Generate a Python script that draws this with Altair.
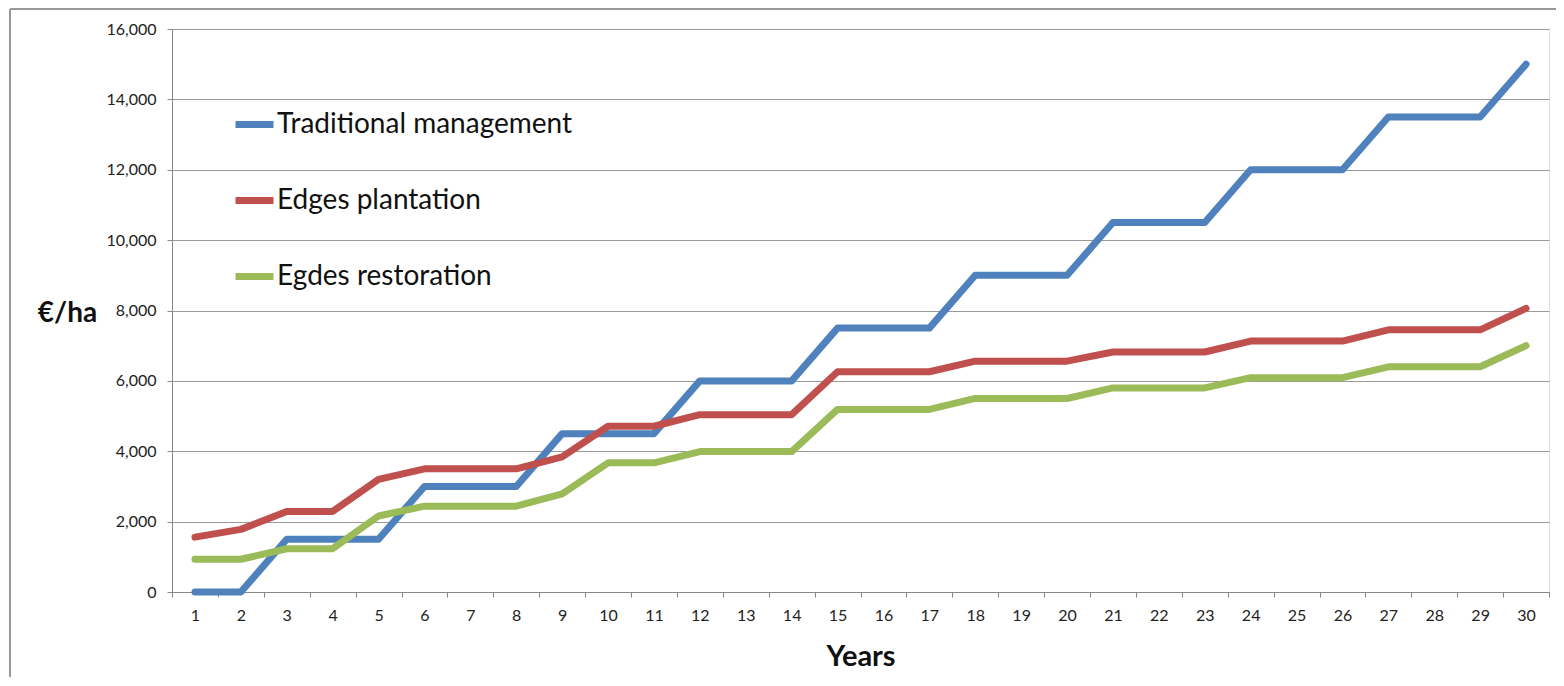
import altair as alt
import pandas as pd

years = list(range(1, 31))
series_names = ["Traditional management", "Edges plantation", "Egdes restoration"]
traditional = [0, 0, 1500, 1500, 1500, 3000, 3000, 3000, 4500, 4500,
               4500, 6000, 6000, 6000, 7500, 7500, 7500, 9000, 9000, 9000,
               10500, 10500, 10500, 12000, 12000, 12000, 13500, 13500, 13500, 15000]
plantation = [1560, 1780, 2290, 2290, 3200, 3500, 3500, 3500, 3840, 4710,
              4710, 5040, 5040, 5040, 6260, 6260, 6260, 6560, 6560, 6560,
              6820, 6820, 6820, 7130, 7130, 7130, 7450, 7450, 7450, 8060]
restoration = [930, 930, 1230, 1230, 2160, 2440, 2440, 2440, 2790, 3670,
               3670, 3990, 3990, 3990, 5190, 5190, 5190, 5500, 5500, 5500,
               5800, 5800, 5800, 6090, 6090, 6090, 6400, 6400, 6400, 7000]
colors = ["#4F81BD", "#C0504D", "#9BBB59"]

rows = []
for name, vals in zip(series_names, [traditional, plantation, restoration]):
    for y, v in zip(years, vals):
        rows.append({"Year": y, "Value": v, "Series": name})
df = pd.DataFrame(rows)

W, H = 1377, 563
FONT = "Lato"

lines = alt.Chart(df).mark_line(strokeWidth=7, strokeCap="round", strokeJoin="round").encode(
    x=alt.X("Year:O",
            scale=alt.Scale(type="band", paddingInner=0, paddingOuter=0),
            bandPosition=0.5,
            axis=alt.Axis(title="Years", labelAngle=0, tickBand="extent",
                          grid=False, domainColor="#888888", tickColor="#888888",
                          tickSize=5, labelPadding=10, labelFontSize=16,
                          labelColor="#222222", labelFont=FONT,
                          titleFont=FONT, titleFontSize=29, titleFontWeight="bold",
                          titleColor="#111111", titleY=73, titleBaseline="alphabetic")),
    y=alt.Y("Value:Q",
            scale=alt.Scale(domain=[0, 16000], nice=False),
            axis=alt.Axis(title="€/ha", values=list(range(0, 16001, 2000)), format=",d",
                          grid=True, gridColor="#999999", gridWidth=1,
                          domainColor="#888888", tickColor="#888888", tickSize=5,
                          labelPadding=11, labelFontSize=16, labelColor="#222222",
                          labelFont=FONT, titleFont=FONT, titleFontSize=28,
                          titleFontWeight="bold", titleColor="#111111", titleAngle=0,
                          titleX=-105, titleY=284, titleAlign="center",
                          titleBaseline="middle")),
    color=alt.Color("Series:N",
                    scale=alt.Scale(domain=series_names, range=colors),
                    legend=alt.Legend(title=None, orient="none", legendX=60, legendY=73,
                                      symbolType="stroke", symbolStrokeWidth=7,
                                      symbolSize=1444, labelFontSize=28, labelFont=FONT,
                                      labelColor="#111111", labelOffset=0,
                                      rowPadding=39, labelLimit=600)),
    order=alt.Order("Year:O"),
)

frame_top = alt.Chart(df).mark_rule(color="#999999", strokeWidth=1.5).encode(
    x=alt.value(-162), x2=alt.value(W + 10), y=alt.value(-20)
)
frame_left = alt.Chart(df).mark_rule(color="#999999", strokeWidth=1.5).encode(
    x=alt.value(-162), y=alt.value(-20), y2=alt.value(H + 120)
)

chart = alt.layer(frame_top, frame_left, lines).properties(
    width=W, height=H,
    autosize=alt.AutoSizeParams(type="none"),
    padding={"left": 164, "top": 21, "right": 7, "bottom": 85},
).configure_view(stroke=None).configure(background="white")

chart.save("out.html", embed_options={"renderer": "svg", "actions": False})
